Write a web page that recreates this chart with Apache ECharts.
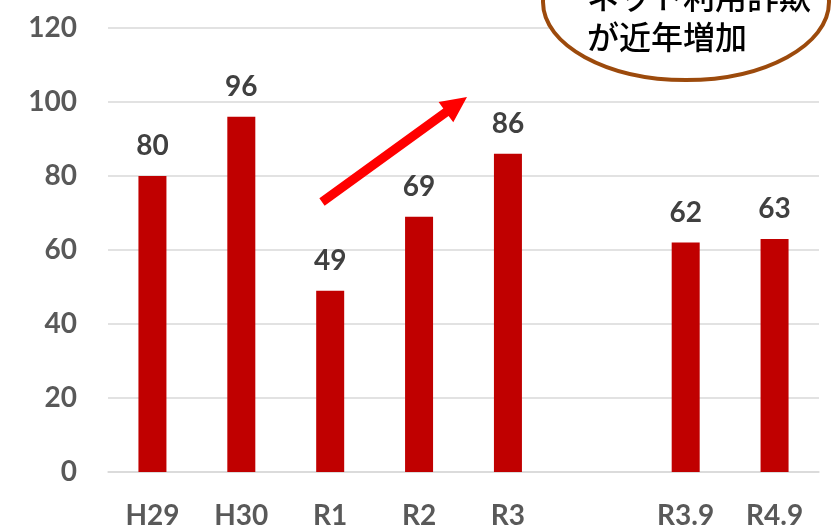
<!DOCTYPE html>
<html>
<head>
<meta charset="utf-8">
<script src="https://cdn.jsdelivr.net/npm/echarts@6/dist/echarts.min.js"></script>
<style>
  html, body { margin: 0; padding: 0; background: #fff; }
  #chart { width: 838px; height: 530px; }
</style>
</head>
<body>
<div id="chart"></div>
<script>
// Fiscal periods (blank slot separates annual totals from the September snapshots)
const categories = ['H29', 'H30', 'R1', 'R2', 'R3', '', 'R3.9', 'R4.9'];
const counts = [80, 96, 49, 69, 86, null, 62, 63];
const yTicks = [0, 20, 40, 60, 80, 100, 120];

const chart = echarts.init(document.getElementById('chart'));

// Trend arrow drawn as one polygon: shaft + head
function arrowPoints(tail, tip, shaftHalf, headHalf, headLen) {
  const dx = tip[0] - tail[0], dy = tip[1] - tail[1];
  const len = Math.hypot(dx, dy);
  const ux = dx / len, uy = dy / len;
  const nx = -uy, ny = ux;
  const bx = tip[0] - headLen * ux, by = tip[1] - headLen * uy;
  return [
    [tail[0] + shaftHalf * nx, tail[1] + shaftHalf * ny],
    [bx + shaftHalf * nx, by + shaftHalf * ny],
    [bx + headHalf * nx, by + headHalf * ny],
    tip,
    [bx - headHalf * nx, by - headHalf * ny],
    [bx - shaftHalf * nx, by - shaftHalf * ny],
    [tail[0] - shaftHalf * nx, tail[1] - shaftHalf * ny]
  ];
}

const font = 'Lato, "Liberation Sans", Arial, sans-serif';

chart.setOption({
  animation: false,
  backgroundColor: '#ffffff',
  grid: { left: 108, right: 19, top: 28, bottom: 56, containLabel: false },
  xAxis: {
    type: 'category',
    data: categories,
    axisLine: { show: true, lineStyle: { color: '#d9d9d9', width: 1.5 } },
    axisTick: { show: false },
    axisLabel: {
      margin: 30,
      color: '#595959',
      fontFamily: font,
      fontWeight: 'bold',
      fontSize: 28
    }
  },
  yAxis: {
    type: 'value',
    min: yTicks[0],
    max: yTicks[yTicks.length - 1],
    interval: yTicks[1] - yTicks[0],
    axisLine: { show: false },
    axisTick: { show: false },
    splitLine: { lineStyle: { color: '#d9d9d9', width: 1.5 } },
    axisLabel: {
      margin: 31,
      color: '#595959',
      fontFamily: font,
      fontWeight: 'bold',
      fontSize: 28
    }
  },
  series: [{
    type: 'bar',
    data: counts,
    barWidth: 28,
    itemStyle: { color: '#c00000' },
    label: {
      show: true,
      position: 'top',
      distance: 16,
      color: '#404040',
      fontFamily: font,
      fontWeight: 'bold',
      fontSize: 28
    }
  }],
  graphic: [
    {
      type: 'polygon',
      shape: { points: arrowPoints([322, 202], [467, 97], 4.5, 12.5, 26) },
      style: { fill: '#ff0000' },
      z: 10
    },
    {
      type: 'ellipse',
      shape: { cx: 686, cy: 2, rx: 143, ry: 78 },
      style: { fill: '#ffffff', stroke: '#9c4a0c', lineWidth: 4 },
      z: 10
    },
    {
      type: 'text',
      left: 587,
      top: -23,
      style: {
        text: 'ネット利用詐欺\nが近年増加',
        fill: '#000000',
        font: '500 32px "Noto Sans CJK JP", sans-serif',
        lineHeight: 40
      },
      z: 11
    }
  ]
});
</script>
</body>
</html>
